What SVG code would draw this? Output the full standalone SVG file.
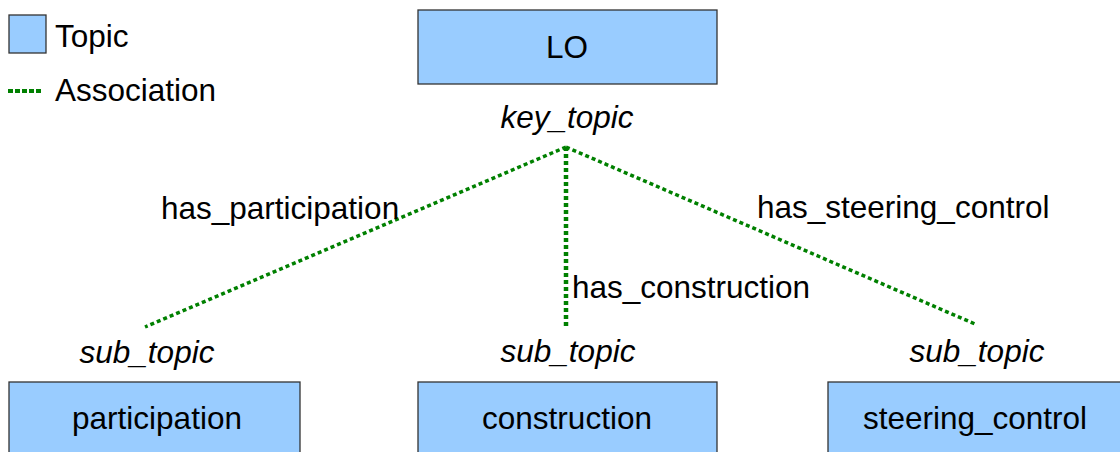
<svg xmlns="http://www.w3.org/2000/svg" width="1120" height="452" viewBox="0 0 1120 452">
<style>
.topic{fill:#99ccff;stroke:#333;stroke-width:1.3}
text{font-family:"Liberation Sans",Arial,sans-serif;font-size:31.5px;fill:#000}
.c{text-anchor:middle}
.i{font-style:italic}
.assoc{stroke:#008000;stroke-width:3.5;stroke-dasharray:4 3;fill:none}
</style>
<rect width="1120" height="452" fill="#fff"/>
<g id="legend">
<rect class="topic" x="9" y="15" width="37" height="38"/>
<text x="55" y="47">Topic</text>
<line class="assoc" x1="8" y1="91" x2="43" y2="91" style="stroke-width:4;stroke-dasharray:5 2"/>
<text x="55" y="101">Association</text>
</g>
<g id="connectors">
<line class="assoc" x1="566" y1="147" x2="145" y2="327"/>
<line class="assoc" x1="566" y1="147" x2="566" y2="327" style="stroke-width:4.5"/>
<line class="assoc" x1="566" y1="147" x2="975" y2="324"/>
<text x="161" y="219">has_participation</text>
<text x="572" y="298">has_construction</text>
<text x="757" y="218">has_steering_control</text>
<text class="c i" x="567" y="128">key_topic</text>
<text class="c i" x="147" y="363">sub_topic</text>
<text class="c i" x="568" y="362">sub_topic</text>
<text class="c i" x="977" y="362">sub_topic</text>
</g>
<g id="LO">
<rect class="topic" x="418" y="10" width="299" height="74"/>
<text class="c" x="567" y="58">LO</text>
</g>
<g id="participation">
<rect class="topic" x="9" y="382" width="291" height="80"/>
<text class="c" x="157" y="429">participation</text>
</g>
<g id="construction">
<rect class="topic" x="418" y="382" width="299" height="80"/>
<text class="c" x="567" y="429">construction</text>
</g>
<g id="steering_control">
<rect class="topic" x="828" y="382" width="300" height="80"/>
<text class="c" x="975" y="429">steering_control</text>
</g>
</svg>
